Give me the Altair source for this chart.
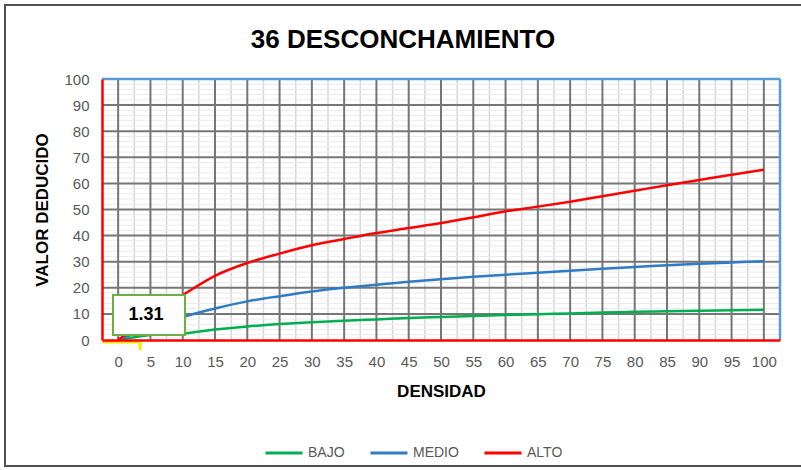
import altair as alt
import pandas as pd

# Density values (x) and deduct values for each severity curve
densidad = [0, 5, 10, 15, 20, 25, 30, 35, 40, 45, 50, 55, 60, 65, 70, 75, 80, 85, 90, 95, 100]
bajo = [0, 1.9, 2.5, 4.0, 5.2, 6.1, 6.8, 7.4, 7.9, 8.4, 8.8, 9.2, 9.6, 9.9, 10.2, 10.5, 10.8, 11.0, 11.2, 11.4, 11.6]
medio = [0.3, 4.5, 8.8, 12.1, 14.8, 16.8, 18.6, 20.0, 21.2, 22.3, 23.3, 24.2, 25.0, 25.8, 26.5, 27.3, 28.0, 28.6, 29.2, 29.7, 30.2]
alto = [0, 9.0, 17.2, 24.6, 29.5, 33.1, 36.3, 38.7, 41.0, 42.9, 44.8, 47.0, 49.3, 51.1, 53.0, 55.1, 57.2, 59.3, 61.3, 63.3, 65.2]

severidades = ["BAJO", "MEDIO", "ALTO"]
colores = ["#00B050", "#2E7BC6", "#FF0000"]

# Axis tick values
ticks_y = list(range(0, 101, 10))

# Gridline positions
major_x = list(range(0, 101, 5))
minor_x = [2.5 + 5 * i for i in range(20)]
major_y = list(range(10, 100, 10))
minor_y = [v for v in range(2, 100, 2) if v % 10 != 0]

# Lookup result shown in the label box
ann_densidad = [3.4]
ann_valor = [1.31]

TITULO = "36 DESCONCHAMIENTO"
FONT = "Liberation Sans"
W, H = 678, 261

rows = []
for name, serie in zip(severidades, [bajo, medio, alto]):
    for d, v in zip(densidad, serie):
        rows.append({"densidad": d, "valor": v, "severidad": name})
curvas = pd.DataFrame(rows)

xs = alt.Scale(domain=[-2.5, 102.5], nice=False, zero=False)
ys = alt.Scale(domain=[0, 100], nice=False, zero=False)

eje_x = alt.Axis(
    values=densidad,
    title="DENSIDAD",
    titleFont=FONT,
    titleFontSize=17,
    titleFontWeight="bold",
    titleColor="#000000",
    titlePadding=14,
    labelFont=FONT,
    labelFontSize=15,
    labelColor="#595959",
    labelPadding=14,
    labelOverlap=False,
    ticks=False,
    grid=False,
    domainColor="#FF0000",
    domainWidth=2.5,
    zindex=1,
)

eje_y = alt.Axis(
    values=ticks_y,
    title="VALOR DEDUCIDO",
    titleFont=FONT,
    titleFontSize=17,
    titleFontWeight="bold",
    titleColor="#000000",
    titleX=-60,
    titleY=H / 2,
    titleAngle=270,
    titleAlign="center",
    titleBaseline="middle",
    labelFont=FONT,
    labelFontSize=15,
    labelColor="#595959",
    labelPadding=13,
    labelOverlap=False,
    ticks=False,
    grid=False,
    domainColor="#FF0000",
    domainWidth=2.5,
    zindex=1,
)

grid_minor_v = alt.Chart(pd.DataFrame({"densidad": minor_x})).mark_rule(
    color="#d6d6d6", strokeWidth=1.5
).encode(x=alt.X("densidad:Q", scale=xs, axis=eje_x))

grid_minor_h = alt.Chart(pd.DataFrame({"valor": minor_y})).mark_rule(
    color="#ebebeb", strokeWidth=1
).encode(y=alt.Y("valor:Q", scale=ys, axis=eje_y))

grid_major_v = alt.Chart(pd.DataFrame({"densidad": major_x})).mark_rule(
    color="#767676", strokeWidth=2
).encode(x=alt.X("densidad:Q", scale=xs, axis=eje_x))

grid_major_h = alt.Chart(pd.DataFrame({"valor": major_y})).mark_rule(
    color="#767676", strokeWidth=2
).encode(y=alt.Y("valor:Q", scale=ys, axis=eje_y))

# Plot-area border on the top and right sides
borde_sup = alt.Chart(pd.DataFrame({"valor": [100]})).mark_rule(
    color="#5B9BD5", strokeWidth=2.5
).encode(y=alt.Y("valor:Q", scale=ys, axis=eje_y))

borde_der = alt.Chart(pd.DataFrame({"densidad": [102.5]})).mark_rule(
    color="#5B9BD5", strokeWidth=2.5
).encode(x=alt.X("densidad:Q", scale=xs, axis=eje_x))

lineas = alt.Chart(curvas).mark_line(strokeWidth=2.5, interpolate="monotone").encode(
    x=alt.X("densidad:Q", scale=xs, axis=eje_x),
    y=alt.Y("valor:Q", scale=ys, axis=eje_y),
    color=alt.Color(
        "severidad:N",
        scale=alt.Scale(domain=severidades, range=colores),
        legend=alt.Legend(
            title=None,
            orient="none",
            direction="horizontal",
            legendX=162,
            legendY=354,
            symbolType="stroke",
            symbolSize=1369,
            symbolStrokeWidth=3,
            labelFont=FONT,
            labelFontSize=14,
            labelColor="#595959",
            labelOffset=4,
            columnPadding=19,
            padding=0,
        ),
    ),
    order="densidad:Q",
)

ann = pd.DataFrame({"densidad": ann_densidad, "valor": ann_valor, "base": [0.0], "inicio": [-2.5]})

guia_h = alt.Chart(ann).mark_rule(color="#FFE500", strokeWidth=3, yOffset=2).encode(
    x=alt.X("inicio:Q", scale=xs, axis=eje_x),
    x2="densidad:Q",
    y=alt.Y("base:Q", scale=ys, axis=eje_y),
)

guia_v = alt.Chart(ann).mark_rule(color="#FFE500", strokeWidth=3).encode(
    x=alt.X("densidad:Q", scale=xs, axis=eje_x),
    y=alt.Y("base:Q", scale=ys, axis=eje_y),
    y2=alt.value(H + 10),
)

caja = alt.Chart(ann).mark_rect(fill="#FFFFFF", stroke="#70AD47", strokeWidth=2).encode(
    x=alt.value(11), x2=alt.value(83), y=alt.value(216), y2=alt.value(256)
)

etiqueta = alt.Chart(ann).mark_text(
    font=FONT, fontSize=18, fontWeight="bold", color="#000000", align="center", baseline="middle"
).encode(
    x=alt.value(44), y=alt.value(236), text=alt.Text("valor:Q", format=".2f")
)

titulo = alt.Chart(pd.DataFrame({"t": [TITULO]})).mark_text(
    font=FONT, fontSize=26, fontWeight="bold", color="#000000", align="center", baseline="alphabetic"
).encode(x=alt.value(301), y=alt.value(-31), text="t:N")

marco = alt.Chart(ann).mark_rect(fill=None, stroke="#505050", strokeWidth=2).encode(
    x=alt.value(-97), x2=alt.value(W + 40), y=alt.value(-74), y2=alt.value(H + 126)
)

chart = alt.layer(
    grid_minor_v, grid_minor_h, grid_major_v, grid_major_h, borde_sup, borde_der,
    lineas, guia_h, guia_v, caja, etiqueta, titulo, marco,
).properties(
    width=W,
    height=H,
    padding={"left": 102, "top": 79, "right": 21, "bottom": 130},
    autosize=alt.AutoSizeParams(type="none"),
).configure_view(
    stroke=None
).configure(background="#FFFFFF")

chart.save("out.html", embed_options={"renderer": "svg", "actions": False})
